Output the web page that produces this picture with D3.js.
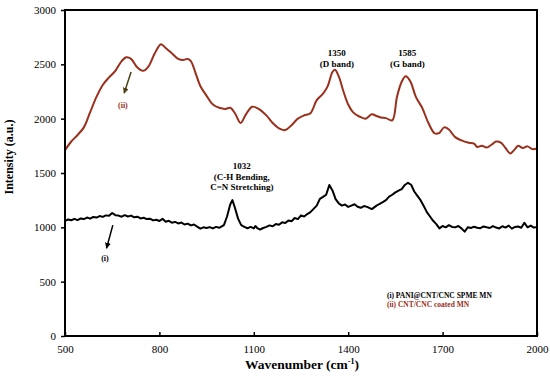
<!DOCTYPE html>
<html lang="en">
<head>
    <meta charset="UTF-8">
    <title>Raman spectra</title>
    <script src="https://cdnjs.cloudflare.com/ajax/libs/d3/7.8.5/d3.min.js"></script>
    <style>
        body { margin: 0; background: #fff; }
        svg { font-family: "Liberation Serif", "Times New Roman", serif; }
    </style>
</head>
<body>
    <div id="chart"></div>

    <script>
        // (i) PANI@CNT/CNC SPME MN  [wavenumber, intensity]
        const seriesI = [
            [500, 1060], [510, 1072], [520, 1065], [530, 1078], [540, 1066], [550, 1082],
            [560, 1076], [570, 1090], [580, 1080], [590, 1096], [600, 1090], [610, 1104],
            [620, 1096], [630, 1110], [640, 1106], [650, 1132], [660, 1112], [670, 1108],
            [680, 1098], [690, 1112], [700, 1100], [710, 1108], [720, 1092], [730, 1098],
            [740, 1082], [750, 1088], [760, 1076], [770, 1080], [780, 1064], [790, 1070],
            [800, 1058], [810, 1078], [820, 1052], [830, 1060], [840, 1042], [850, 1050],
            [860, 1036], [870, 1044], [880, 1026], [890, 1034], [900, 1018], [910, 1026],
            [920, 1006], [930, 988], [940, 1000], [950, 994], [960, 1002], [970, 990],
            [980, 1004], [990, 996], [1005, 1020], [1015, 1100], [1025, 1210], [1032, 1250],
            [1040, 1180], [1050, 1080], [1060, 1020], [1070, 1004], [1080, 992], [1090, 1004],
            [1100, 990], [1105, 1012], [1110, 996], [1120, 980], [1130, 994], [1140, 1004],
            [1150, 1018], [1160, 1010], [1170, 1030], [1180, 1024], [1190, 1046], [1200, 1040],
            [1210, 1062], [1220, 1056], [1230, 1086], [1240, 1076], [1250, 1110], [1260, 1100],
            [1270, 1122], [1280, 1140], [1290, 1170], [1300, 1200], [1310, 1262], [1320, 1280],
            [1330, 1300], [1340, 1390], [1350, 1340], [1360, 1260], [1370, 1220], [1380, 1200],
            [1390, 1210], [1400, 1188], [1410, 1200], [1420, 1212], [1430, 1190], [1440, 1180],
            [1450, 1196], [1460, 1188], [1475, 1168], [1490, 1200], [1500, 1215], [1510, 1232],
            [1520, 1250], [1530, 1282], [1540, 1300], [1550, 1322], [1560, 1338], [1570, 1352],
            [1580, 1390], [1590, 1410], [1600, 1392], [1610, 1330], [1620, 1290], [1630, 1250],
            [1640, 1196], [1650, 1140], [1660, 1100], [1670, 1060], [1680, 1030], [1690, 990],
            [1700, 1012], [1710, 1000], [1720, 1020], [1730, 1004], [1740, 1000], [1750, 1012],
            [1760, 990], [1770, 960], [1780, 1000], [1790, 994], [1800, 1006], [1810, 996],
            [1820, 992], [1830, 1008], [1840, 1000], [1850, 994], [1860, 1012], [1870, 998],
            [1880, 990], [1890, 1010], [1900, 998], [1910, 1016], [1920, 988], [1930, 1004],
            [1940, 1008], [1950, 996], [1960, 1042], [1970, 1000], [1980, 1016], [1990, 998],
            [2000, 1002]
        ];

        // (ii) CNT/CNC coated MN
        const seriesII = [
            [500, 1710], [520, 1790], [540, 1850], [560, 1920], [580, 2060], [600, 2200],
            [620, 2310], [640, 2380], [660, 2440], [680, 2530], [695, 2565], [710, 2550],
            [730, 2470], [748, 2440], [765, 2480], [785, 2600], [805, 2685], [820, 2650],
            [840, 2600], [860, 2550], [875, 2540], [890, 2550], [900, 2530], [915, 2420],
            [930, 2300], [950, 2210], [970, 2130], [990, 2100], [1010, 2090], [1025, 2100],
            [1040, 2050], [1058, 1960], [1075, 2040], [1095, 2110], [1115, 2090], [1140, 2030],
            [1160, 1960], [1180, 1910], [1200, 1895], [1220, 1940], [1240, 2000], [1260, 2030],
            [1280, 2050], [1300, 2170], [1320, 2230], [1335, 2300], [1350, 2430], [1358, 2450],
            [1370, 2390], [1385, 2250], [1400, 2130], [1415, 2060], [1435, 2020], [1455, 2000],
            [1475, 2040], [1490, 2025], [1505, 2010], [1520, 2005], [1540, 1985], [1555, 2200],
            [1570, 2340], [1583, 2390], [1598, 2340], [1615, 2200], [1635, 2100], [1655, 1960],
            [1675, 1865], [1690, 1870], [1705, 1920], [1720, 1900], [1740, 1830], [1760, 1800],
            [1780, 1780], [1800, 1770], [1810, 1740], [1825, 1750], [1840, 1735], [1855, 1760],
            [1870, 1790], [1885, 1780], [1900, 1730], [1915, 1680], [1930, 1720], [1940, 1750],
            [1955, 1730], [1970, 1745], [1985, 1720], [2000, 1725]
        ];

        const xTicks = [500, 800, 1100, 1400, 1700, 2000];
        const yTicks = [0, 500, 1000, 1500, 2000, 2500, 3000];

        // peak labels: [x, y, lines]
        const peakLabels = [
            [1364, 2576, ["1350", "(D band)"]],
            [1588, 2576, ["1585", "(G band)"]],
            [1062, 1536, ["1032", "(C-H Bending,", "C=N Stretching)"]]
        ];

        const red = "#9a2f1c";
        const width = 550, height = 378;
        const margin = { top: 10, right: 13, bottom: 42, left: 65 };

        const svg = d3.select("#chart").append("svg")
            .attr("width", width)
            .attr("height", height);

        const x = d3.scaleLinear().domain([500, 2000]).range([margin.left, width - margin.right]);
        const y = d3.scaleLinear().domain([0, 3000]).range([height - margin.bottom, margin.top]);

        svg.append("path")
            .datum(seriesII)
            .attr("fill", "none")
            .attr("stroke", red)
            .attr("stroke-width", 2)
            .attr("d", d3.line().x(d => x(d[0])).y(d => y(d[1])).curve(d3.curveCatmullRom));

        svg.append("path")
            .datum(seriesI)
            .attr("fill", "none")
            .attr("stroke", "#000")
            .attr("stroke-width", 2)
            .attr("stroke-linejoin", "round")
            .attr("d", d3.line().x(d => x(d[0])).y(d => y(d[1])));

        // frame
        svg.append("rect")
            .attr("x", x(500)).attr("y", y(3000))
            .attr("width", x(2000) - x(500)).attr("height", y(0) - y(3000))
            .attr("fill", "none").attr("stroke", "#000").attr("stroke-width", 2);

        const xAxis = svg.append("g")
            .attr("transform", `translate(0,${y(0)})`)
            .call(d3.axisBottom(x).tickValues(xTicks).tickFormat(d3.format("d")).tickSize(-4).tickPadding(9));
        const yAxis = svg.append("g")
            .attr("transform", `translate(${x(500)},0)`)
            .call(d3.axisLeft(y).tickValues(yTicks).tickFormat(d3.format("d")).tickSize(4).tickPadding(5));

        [xAxis, yAxis].forEach(g => {
            g.attr("font-family", "Liberation Serif");
            g.select(".domain").remove();
            g.selectAll(".tick line").attr("stroke", "#000").attr("stroke-width", 1.5);
            g.selectAll(".tick text")
                .attr("font-size", 11)
                .attr("fill", "#000");
        });

        // axis titles
        const xt = svg.append("text")
            .attr("x", 302).attr("y", 369)
            .attr("text-anchor", "middle")
            .attr("font-weight", "bold").attr("font-size", 13.5);
        xt.append("tspan").text("Wavenumber  (cm");
        xt.append("tspan").attr("font-size", 8).attr("dy", -5).text("-1");
        xt.append("tspan").attr("dy", 5).text(")");

        svg.append("text")
            .attr("transform", "translate(13,157) rotate(-90)")
            .attr("text-anchor", "middle")
            .attr("font-weight", "bold").attr("font-size", 12)
            .text("Intensity (a.u.)");

        // peak annotations
        peakLabels.forEach(([px, py, lines]) => {
            const t = svg.append("text")
                .attr("x", x(px)).attr("y", y(py))
                .attr("text-anchor", "middle")
                .attr("font-weight", "bold").attr("font-size", 9);
            lines.forEach((s, i) => {
                t.append("tspan").attr("x", x(px)).attr("dy", i === 0 ? 0 : 10.5).text(s);
            });
        });

        // arrows
        const defs = svg.append("defs");
        [["arrI", "#000"], ["arrII", "#4e3e14"]].forEach(([id, c]) => {
            defs.append("marker")
                .attr("id", id).attr("viewBox", "0 0 10 10")
                .attr("refX", 9).attr("refY", 5)
                .attr("markerWidth", 4).attr("markerHeight", 4)
                .attr("orient", "auto")
                .append("path").attr("d", "M0,0L10,5L0,10z").attr("fill", c);
        });

        svg.append("line")
            .attr("x1", x(710)).attr("y1", y(2429))
            .attr("x2", x(688)).attr("y2", y(2235))
            .attr("stroke", "#4e3e14").attr("stroke-width", 1.5)
            .attr("marker-end", "url(#arrII)");
        svg.append("text")
            .attr("x", x(684)).attr("y", y(2097))
            .attr("text-anchor", "middle")
            .attr("font-weight", "bold").attr("font-size", 8)
            .attr("fill", red).text("(ii)");

        svg.append("line")
            .attr("x1", x(652)).attr("y1", y(1020))
            .attr("x2", x(632)).attr("y2", y(808))
            .attr("stroke", "#000").attr("stroke-width", 1.5)
            .attr("marker-end", "url(#arrI)");
        svg.append("text")
            .attr("x", x(627)).attr("y", y(688))
            .attr("text-anchor", "middle")
            .attr("font-weight", "bold").attr("font-size", 8)
            .text("(i)");

        // legend
        svg.append("text")
            .attr("x", x(1523)).attr("y", y(347))
            .attr("font-weight", "bold").attr("font-size", 7.5)
            .text("(i) PANI@CNT/CNC SPME MN");
        svg.append("text")
            .attr("x", x(1523)).attr("y", y(264))
            .attr("font-weight", "bold").attr("font-size", 7.5)
            .attr("fill", red)
            .text("(ii) CNT/CNC coated MN");
    </script>
</body>
</html>
